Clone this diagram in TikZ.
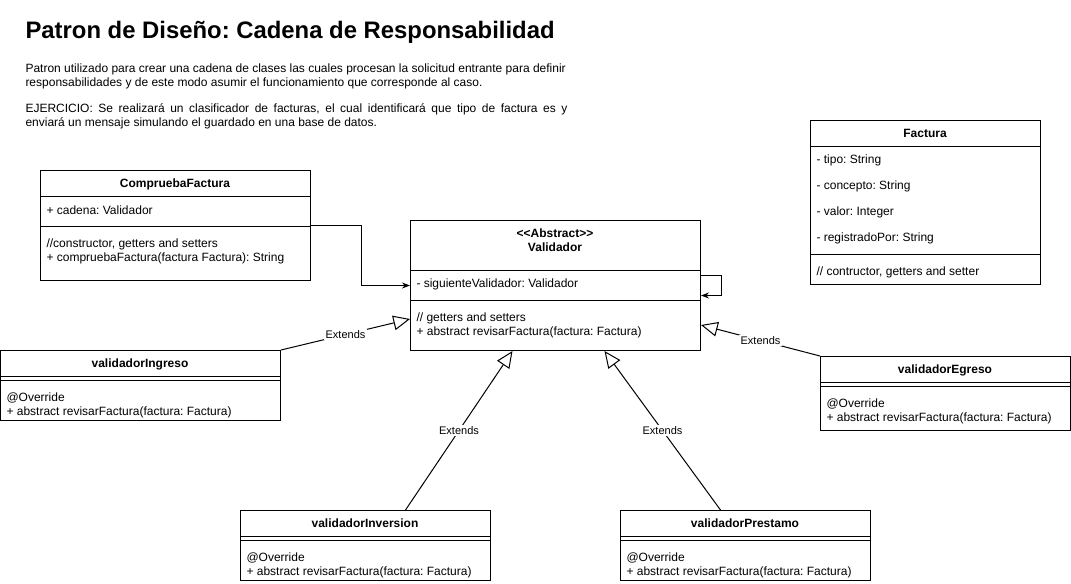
\documentclass[tikz,border=0pt]{standalone}
\usepackage{fontspec}
\setmainfont{Liberation Sans}
\usetikzlibrary{arrows.meta,positioning}
\frenchspacing
\begin{document}
\begin{tikzpicture}[x=.75pt,y=-.75pt,line width=.75pt,line join=miter,
box/.style 2 args={draw,anchor=north west,inner sep=0pt,minimum width=#1*.75pt,minimum height=#2*.75pt},
txt/.style={anchor=base west,inner sep=0pt,font=\fontsize{9}{11}\selectfont},
hd/.style={anchor=base,inner sep=0pt,font=\fontsize{9}{11}\selectfont\bfseries},
ext/.style={-{Triangle[open,length=12.5pt,width=11pt]}},
assoc/.style={-{Stealth[length=6pt,width=4.5pt]}},
lbl/.style={fill=white,inner sep=1pt,font=\fontsize{8.25}{10}\selectfont}]
\useasboundingbox (0,0) rectangle (1071,583);
% title and description
\node[anchor=base west,inner sep=0pt,font=\fontsize{17.9}{20}\selectfont\bfseries] (title) at (25,38) {Patron de Diseño: Cadena de Responsabilidad};
\node[txt] (d1) at (25,72) {Patron utilizado para crear una cadena de clases las cuales procesan la solicitud entrante para definir};
\node[txt] (d2) at (25,86) {responsabilidades y de este modo asumir el funcionamiento que corresponde al caso.};
\node[txt] (d3) at (25,112) {\makebox[406.5pt][s]{EJERCICIO: Se realizará un clasificador de facturas, el cual identificará que tipo de factura es y}};
\node[txt] (d4) at (25,126) {enviará un mensaje simulando el guardado en una base de datos.};
% CompruebaFactura
\node[box={270}{110}] (comp) at (40,170) {};
\draw (40,196)--(310,196) (40,226)--(310,226);
\node[hd] at (175,187) {CompruebaFactura};
\node[txt] at (46,214) {+ cadena: Validador};
\node[txt] at (46,247) {//constructor, getters and setters};
\node[txt] at (46,261) {+ compruebaFactura(factura Factura): String};
% Validador
\node[box={290}{130}] (valid) at (410,220) {};
\draw (410,270)--(700,270) (410,300)--(700,300);
\node[hd] at (555,237) {<{}<Abstract>{}>};
\node[hd] at (555,251) {Validador};
\node[txt] at (416,287) {- siguienteValidador: Validador};
\node[txt] at (416,321) {// getters and setters};
\node[txt] at (416,335) {+ abstract revisarFactura(factura: Factura)};
% Factura
\node[box={230}{164}] (fact) at (810,120) {};
\draw (810,146)--(1040,146) (810,254)--(1040,254);
\node[hd] at (925,137) {Factura};
\node[txt] at (816,163) {- tipo: String};
\node[txt] at (816,189) {- concepto: String};
\node[txt] at (816,215) {- valor: Integer};
\node[txt] at (816,241) {- registradoPor: String};
\node[txt] at (816,275) {// contructor, getters and setter};
% subclasses
\foreach \n/\x/\y/\w/\h/\t in {ingreso/0/350/280/70/validadorIngreso,
  egreso/820/356/250/74/validadorEgreso,
  inversion/240/510/250/70/validadorInversion,
  prestamo/620/510/250/70/validadorPrestamo}{
\node[box={\w}{\h}] (\n) at (\x,\y) {};
\draw (\x,\y+26)--++(\w,0) (\x,\y+30)--++(\w,0);
\node[hd] at (\x+\w/2,\y+17) {\t};
\node[txt] at (\x+6,\y+51) {@Override};
\node[txt] at (\x+6,\y+65) {+ abstract revisarFactura(factura: Factura)};
}
% connectors
\draw[assoc] (comp.east)--++(50,0)|-(valid.west);
\draw[assoc] ([yshift=7.5pt]valid.east)--++(20,0)|-([yshift=-7.5pt]valid.east);
\draw[ext] (ingreso.north east)--node[lbl]{Extends}([yshift=24pt]valid.south west);
\draw[ext] (egreso.north west)--node[lbl]{Extends}([yshift=19.5pt]valid.south east);
\draw[ext] ([xshift=30pt]inversion.north)--node[lbl]{Extends}([xshift=-32.25pt]valid.south);
\draw[ext] ([xshift=-18.75pt]prestamo.north)--node[lbl]{Extends}([xshift=36.75pt]valid.south);
\end{tikzpicture}
\end{document}
